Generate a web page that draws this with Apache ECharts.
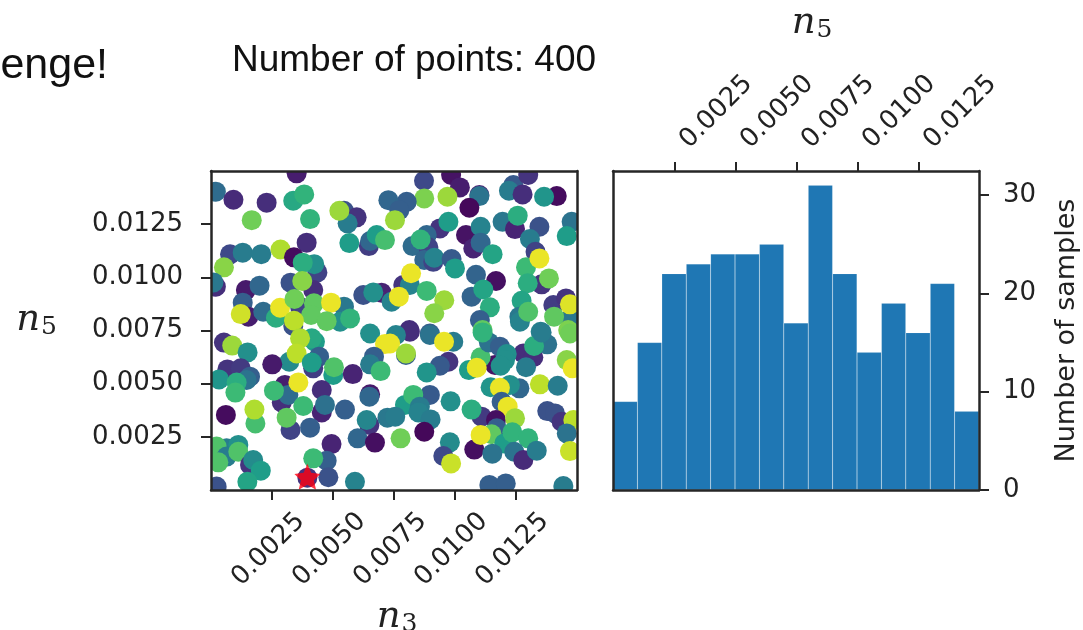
<!DOCTYPE html>
<html><head><meta charset="utf-8">
<style>html,body{margin:0;padding:0;background:#fff}#c{width:1083px;height:630px}</style>
<script src="https://cdn.jsdelivr.net/npm/echarts@6/dist/echarts.min.js"></script>
</head><body><div id="c"></div>
<script>
// each point: [n3 (×10⁻³), n5 (×10⁻³), colour value 0..1]
const pointsUpperLeft = [[3.51,14.89,.08],[.20,14.03,.35],[.92,13.65,.12],[2.28,13.51,.13],[3.37,13.60,.6],[3.82,13.90,.65],[1.67,12.69,.78],[4.06,12.74,.65],[5.45,13.13,.25],[5.97,12.82,.15],[5.60,12.54,.42],[5.26,13.13,.85],[3.92,11.63,.13],[5.67,11.61,.55],[6.47,11.47,.18],[6.52,11.71,.33],[6.79,11.99,.55],[7.13,11.75,.7],[.78,11.08,.22],[1.30,11.16,.42],[2.06,11.09,.42],[2.85,11.31,.88],[3.40,10.94,.03],[4.36,10.23,.2],[4.23,10.62,.5],[3.76,10.69,.62],[.53,10.47,.82],[.20,9.56,.13],[.10,9.76,.4],[1.43,9.40,.07],[1.99,9.61,.33],[3.26,9.75,.25],[4.19,9.40,.13],[3.74,9.83,.82],[6.24,9.17,.25],[6.99,9.28,.1],[6.65,9.29,.5],[1.30,8.81,.3],[1.53,8.15,.08],[1.22,8.27,.93],[2.14,8.38,.35],[3.65,8.62,.2],[5.45,8.62,.4],[2.66,8.10,.62],[2.83,8.57,.97],[3.42,8.98,.78],[4.22,8.78,.75],[4.92,8.81,.97],[4.10,8.23,.75],[3.37,7.71,.25],[3.40,7.96,.9],[5.29,7.91,.5],[4.74,7.94,.75],[5.70,8.07,.65],[6.52,7.36,.5]];
const pointsUpperRight = [[8.73,14.54,.22],[9.84,14.81,.05],[10.20,14.23,.08],[12.39,14.34,.28],[13.00,14.81,.15],[12.21,14.07,.42],[12.77,13.90,.13],[14.17,13.82,.03],[13.65,13.79,.52],[11.00,13.87,.1],[11.00,13.82,.38],[10.59,13.27,.02],[8.74,13.71,.8],[9.69,13.79,.85],[8.02,13.55,.3],[7.27,13.63,.33],[7.72,13.16,.3],[7.54,12.69,.85],[9.38,12.30,.15],[9.73,12.61,.55],[8.84,11.99,.33],[8.26,11.47,.35],[8.91,11.41,.2],[8.59,11.78,.65],[10.45,11.99,.05],[10.75,11.36,.1],[11.05,12.38,.45],[11.05,11.63,.33],[11.54,11.09,.58],[11.95,12.61,.4],[12.46,12.27,.1],[12.57,12.90,.62],[13.46,12.38,.25],[13.07,11.80,.42],[14.78,12.61,.38],[14.58,11.94,.55],[13.30,11.20,.2],[12.91,10.47,.68],[13.46,10.89,.97],[8.74,10.81,.33],[9.11,10.73,.2],[9.15,10.92,.45],[9.86,10.86,.28],[10.00,10.42,.55],[10.86,10.12,.32],[11.68,9.83,.04],[7.88,9.64,.15],[8.15,9.64,.45],[8.20,10.19,.97],[7.40,8.85,.45],[7.70,9.09,.97],[8.84,9.36,.68],[9.56,8.92,.85],[9.15,8.31,.82],[10.68,9.09,.32],[11.16,9.43,.58],[11.43,8.59,.62],[13.55,9.67,.15],[12.98,9.72,.62],[13.85,9.95,.78],[12.73,8.90,.58],[12.64,8.15,.4],[12.66,7.91,.45],[13.00,8.38,.72],[14.03,8.70,.18],[14.55,9.01,.15],[14.71,8.02,.4],[14.06,8.15,.75],[14.71,8.73,.95],[11.02,7.99,.3],[8.13,7.52,.13],[8.97,7.36,.3],[11.13,7.52,.75],[13.51,7.44,.45],[14.64,7.52,.8]];
const pointsLowerLeft = [[.53,6.93,.15],[.87,6.79,.85],[1.50,6.47,.5],[4.26,6.97,.55],[4.13,7.13,.6],[3.65,7.13,.88],[4.43,6.27,.3],[3.21,6.03,.48],[3.51,6.42,.9],[2.51,5.91,.07],[4.19,5.72,.18],[4.13,5.99,.55],[5.01,5.41,.55],[5.04,5.77,.72],[5.81,5.45,.1],[7.13,6.86,.97],[6.68,6.27,.3],[6.52,5.91,.42],[6.95,5.59,.68],[.67,5.67,.15],[1.22,5.72,.17],[1.60,5.33,.3],[1.46,5.17,.38],[.33,5.20,.52],[1.05,5.05,.62],[1.00,4.58,.68],[3.03,4.94,.08],[2.90,4.12,.13],[3.17,4.47,.35],[3.58,5.06,.97],[2.58,4.67,.68],[4.54,4.70,.13],[6.52,4.50,.07],[6.49,4.39,.33],[4.54,3.65,.1],[4.67,4.00,.37],[3.78,3.95,.68],[5.49,3.78,.3],[.61,3.53,.03],[1.82,3.13,.7],[1.78,3.78,.88],[3.26,2.82,.2],[3.10,3.40,.75],[4.06,2.93,.3],[6.49,3.06,.15],[6.38,3.29,.46],[6.01,2.43,.33],[6.72,2.23,.04],[7.23,3.40,.4],[4.94,2.16,.1],[.64,1.96,.42],[1.12,2.12,.5],[.23,2.04,.72],[.64,1.57,.42],[1.12,1.80,.72],[.30,1.30,.72],[1.60,1.18,.15],[1.73,1.41,.48],[2.04,.91,.55],[1.49,.39,.58],[4.74,1.38,.3],[4.19,1.49,.68],[4.81,.60,.25],[5.90,.39,.45],[.23,.16,.25],[3.95,.58,.15]];
const pointsLowerRight = [[8.15,7.44,.13],[7.58,7.29,.45],[7.34,6.89,.97],[8.97,7.29,.38],[9.93,6.97,.42],[9.55,6.97,.97],[7.99,6.35,.3],[7.99,6.42,.85],[9.73,6.03,.15],[9.38,5.84,.28],[8.84,5.53,.52],[11.64,5.88,.05],[10.57,5.64,.55],[11.05,6.24,.7],[10.89,5.75,.97],[11.39,6.94,.38],[11.13,7.41,.65],[11.84,6.74,.3],[12.80,6.42,.13],[13.21,6.24,.13],[12.12,6.39,.5],[12.05,6.11,.5],[11.87,5.84,.5],[12.91,5.77,.42],[13.78,6.85,.38],[13.24,6.77,.62],[13.55,7.41,.42],[14.71,7.36,.78],[14.58,6.11,.82],[14.82,5.72,.97],[12.64,4.78,.33],[11.46,4.83,.52],[12.25,4.94,.5],[11.84,4.81,.97],[13.48,4.97,.9],[14.21,4.90,.42],[11.91,4.15,.3],[12.16,3.92,.97],[8.97,4.47,.28],[7.95,4.00,.55],[8.29,4.47,.68],[8.56,3.92,.42],[8.50,3.65,.45],[9.00,3.32,.42],[7.55,3.45,.42],[9.82,4.17,.5],[11.09,3.45,.17],[11.68,3.29,.04],[10.68,3.78,.62],[12.46,3.37,.85],[13.78,3.71,.25],[14.10,3.60,.25],[14.37,3.21,.15],[14.85,3.29,.9],[14.58,2.66,.38],[8.74,2.74,.02],[7.77,2.43,.78],[9.79,2.24,.48],[9.52,1.60,.22],[9.84,1.25,.92],[10.79,1.90,.04],[11.71,2.90,.3],[11.50,2.62,.75],[11.05,2.59,.97],[12.02,2.19,.55],[12.35,2.71,.65],[13.00,2.43,.65],[11.53,1.71,.38],[12.43,1.80,.38],[12.80,1.41,.12],[13.35,1.85,.42],[14.71,1.83,.92],[11.41,.24,.3],[12.08,.31,.3],[14.44,.19,.42]];
const bestPoint = [3.95, 0.62];
const tickValues = [0.0025, 0.005, 0.0075, 0.01, 0.0125];
const histBins = ['0-1','1-2','2-3','3-4','4-5','5-6','6-7','7-8','8-9','9-10','10-11','11-12','12-13','13-14','14-15'];
const histCounts = [9,15,22,23,24,24,25,17,31,22,14,19,16,21,8];
const countTicks = [0,10,20,30];
const viridis = ['#440154','#482878','#3e4a89','#31688e','#26828e','#1f9e89','#35b779','#6ece58','#b5de2b','#fde725'];

const scatterData = [...pointsUpperLeft,...pointsUpperRight,...pointsLowerLeft,...pointsLowerRight]
  .map(p=>[p[0]/1000,p[1]/1000,p[2]]);
const ink='#262626';
const tickFmt=v=>(+v).toFixed(4);
const FS=26, tickFont='"DejaVu Sans"';
const mathRich={n:{fontFamily:'"DejaVu Serif"',fontStyle:'italic',fontSize:37,color:'#222'},
                s:{fontFamily:'"DejaVu Serif"',fontSize:25,color:'#222',verticalAlign:'bottom',padding:[14,0,0,1]}};
const line={show:true,onZero:false,lineStyle:{color:ink,width:2.5}};
const blank={show:false};
const chart=echarts.init(document.getElementById('c'),null,{renderer:'canvas'});
chart.setOption({
  animation:false,backgroundColor:'#fff',
  grid:[{left:211,top:171,width:366,height:319,outerBoundsMode:'none'},{left:613,top:171,width:366,height:319,outerBoundsMode:'none'}],
  xAxis:[
   {gridIndex:0,z:10,type:'value',position:'bottom',min:0,max:0.015,splitLine:blank,axisLine:line,
    axisTick:{show:true,length:10,customValues:tickValues,lineStyle:{color:ink,width:2}},
    axisLabel:{customValues:tickValues,formatter:tickFmt,rotate:45,align:'center',verticalAlign:'middle',margin:56,padding:[0,10,0,0],
      fontFamily:tickFont,fontSize:FS,color:'#222'},
    name:'{n|n}{s|3}',nameLocation:'middle',nameGap:108,nameMoveOverlap:false,nameTextStyle:{rich:mathRich,padding:[0,0,0,6]}},
   {gridIndex:0,z:10,type:'value',position:'top',min:0,max:0.015,splitLine:blank,axisLine:line,axisTick:blank,axisLabel:blank},
   {gridIndex:1,z:10,type:'value',position:'top',min:-0.000041,max:0.014959,splitLine:blank,axisLine:line,
    axisTick:{show:true,length:9,customValues:tickValues,lineStyle:{color:ink,width:2}},
    axisLabel:{customValues:tickValues,formatter:tickFmt,rotate:-45,align:'left',verticalAlign:'top',margin:36,fontFamily:tickFont,fontSize:FS,color:'#222'},
    name:'{n|n}{s|5}',nameLocation:'middle',nameGap:128,nameMoveOverlap:false,nameTextStyle:{rich:mathRich,padding:[0,0,0,32]}},
   {gridIndex:1,z:10,type:'category',position:'bottom',data:histBins,axisLine:line,axisTick:blank,axisLabel:blank,splitLine:blank}
  ],
  yAxis:[
   {gridIndex:0,z:10,type:'value',position:'left',min:0,max:0.015,splitLine:blank,axisLine:line,
    axisTick:{show:true,length:10,customValues:tickValues,lineStyle:{color:ink,width:2}},
    axisLabel:{customValues:tickValues,formatter:tickFmt,margin:28,fontFamily:tickFont,fontSize:FS,color:'#222',padding:[0,0,7,0]},
    name:'{n|n}{s|5}',nameLocation:'middle',nameRotate:0,nameGap:154,nameMoveOverlap:false,nameTextStyle:{rich:mathRich,padding:[0,0,20,0]}},
   {gridIndex:0,z:10,type:'value',position:'right',min:0,max:0.015,splitLine:blank,axisLine:line,axisTick:blank,axisLabel:blank},
   {gridIndex:1,z:10,type:'value',position:'right',min:0,max:32.45,splitLine:blank,axisLine:line,
    axisTick:{show:true,length:10,customValues:countTicks,lineStyle:{color:ink,width:2}},
    axisLabel:{customValues:countTicks,margin:24,fontFamily:tickFont,fontSize:FS,color:'#222',padding:[4,0,0,0]},
    name:'Number of samples',nameLocation:'middle',nameRotate:90,nameGap:74,nameMoveOverlap:false,
    nameTextStyle:{fontFamily:tickFont,fontSize:27,color:'#222'}},
   {gridIndex:1,z:10,type:'value',position:'left',min:0,max:32.45,splitLine:blank,axisLine:line,axisTick:blank,axisLabel:blank}
  ],
  visualMap:{show:false,seriesIndex:0,dimension:2,min:0,max:1,inRange:{color:viridis}},
  series:[
   {type:'custom',coordinateSystem:'cartesian2d',xAxisIndex:0,yAxisIndex:0,clip:true,data:scatterData,
    encode:{x:0,y:1},
    renderItem:(params,api)=>{
      const c=api.coord([api.value(0),api.value(1)]);
      return {type:'circle',shape:{cx:c[0],cy:c[1],r:10},style:{fill:api.visual('color')}};
    }},
   {type:'scatter',xAxisIndex:0,yAxisIndex:0,z:5,data:[bestPoint.map(v=>v/1000)],
    symbol:'path://M12 0 L15.5 8 L24 9 L18 14.5 L20 23 L12 18.5 L4 23 L6 14.5 L0 9 L8.5 8 Z',
    symbolSize:26,itemStyle:{color:'#ff0010'}},
   {type:'bar',xAxisIndex:3,yAxisIndex:2,data:histCounts,barWidth:'100%',barGap:0,
    itemStyle:{color:'#1f77b4',borderColor:'rgba(255,255,255,.2)',borderWidth:.5}}
  ],
  graphic:[
   {type:'text',x:108,y:66,style:{text:'enge!',fontFamily:'"Liberation Sans"',fontSize:43,fill:'#111',textAlign:'right',textVerticalAlign:'middle'}},
   {type:'text',x:232,y:61,style:{text:'Number of points: 400',fontFamily:'"Liberation Sans"',fontSize:37,fill:'#111',textAlign:'left',textVerticalAlign:'middle'}}
  ]
});
</script></body></html>
